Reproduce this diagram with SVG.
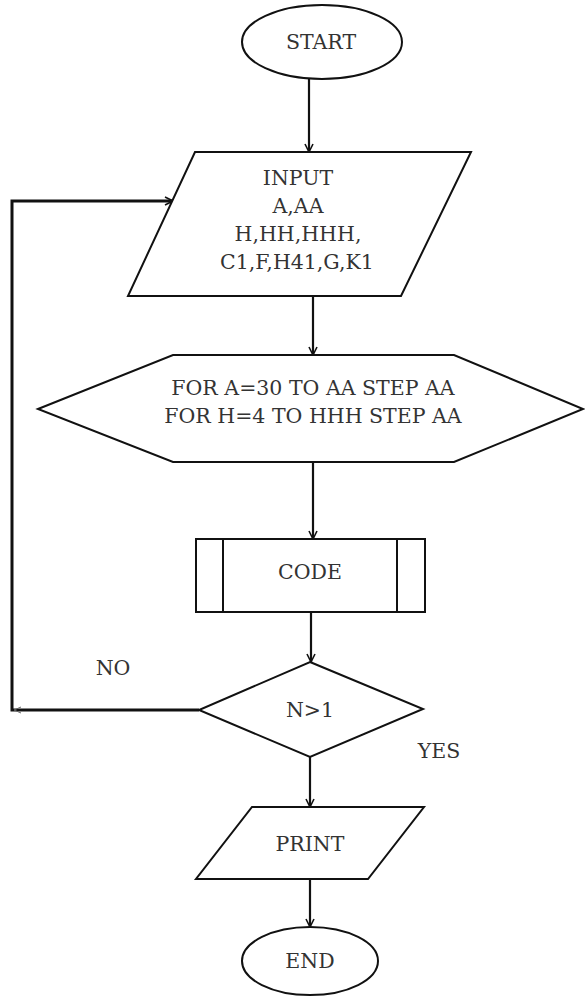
<svg xmlns="http://www.w3.org/2000/svg" width="585" height="998" viewBox="0 0 585 998">
<defs>
<style>
.s{fill:#fff;stroke:#111;stroke-width:2}
.t{font-family:'DejaVu Serif',serif;font-size:20.5px;fill:#333;text-anchor:middle}
.c{fill:none;stroke:#111;stroke-width:2.2}
.cb{fill:none;stroke:#111;stroke-width:3}
</style>
<marker id="ah" markerWidth="10" markerHeight="10" refX="9" refY="5" orient="auto" markerUnits="userSpaceOnUse">
<path d="M1,1 L9,5 L1,9" fill="none" stroke="#111" stroke-width="1.6"/>
</marker>
<marker id="ahl" markerWidth="10" markerHeight="10" refX="9" refY="5" orient="auto" markerUnits="userSpaceOnUse">
<path d="M2,2 L9,5 L2,8" fill="none" stroke="#666" stroke-width="1"/>
</marker>
</defs>
<rect width="585" height="998" fill="#fff"/>
<g id="connectors">
<line class="c" x1="309" y1="79" x2="309" y2="152" marker-end="url(#ah)"/>
<line class="c" x1="313" y1="296" x2="313" y2="355" marker-end="url(#ah)"/>
<line class="c" x1="313" y1="462" x2="313" y2="539" marker-end="url(#ah)"/>
<line class="c" x1="311" y1="612" x2="311" y2="662" marker-end="url(#ah)"/>
<line class="c" x1="310" y1="757" x2="310" y2="807" marker-end="url(#ah)"/>
<line class="c" x1="310" y1="879" x2="310" y2="927" marker-end="url(#ah)"/>
<path class="cb" d="M199,710 L12,710 L12,201 L173,201"/>
<line x1="30" y1="710" x2="14" y2="710" stroke="none" marker-end="url(#ahl)"/>
<line x1="160" y1="201" x2="173" y2="201" stroke="none" marker-end="url(#ah)"/>
<text class="t" x="113" y="675">NO</text>
<text class="t" x="439" y="758">YES</text>
</g>
<g id="start">
<ellipse class="s" cx="322" cy="42" rx="80" ry="37"/>
<text class="t" x="321" y="49">START</text>
</g>
<g id="input">
<polygon class="s" points="195,152 471,152 401,296 128,296"/>
<text class="t" x="298" y="185">INPUT</text>
<text class="t" x="298" y="213">A,AA</text>
<text class="t" x="298" y="241">H,HH,HHH,</text>
<text class="t" x="297" y="269">C1,F,H41,G,K1</text>
</g>
<g id="loop">
<polygon class="s" points="38,409 173,355 454,355 583,409 454,462 173,462"/>
<text class="t" x="313" y="395">FOR A=30 TO AA STEP AA</text>
<text class="t" x="313" y="423">FOR H=4 TO HHH STEP AA</text>
</g>
<g id="code">
<rect class="s" x="196" y="539" width="229" height="73"/>
<line class="s" x1="223" y1="539" x2="223" y2="612"/>
<line class="s" x1="397" y1="539" x2="397" y2="612"/>
<text class="t" x="310" y="579">CODE</text>
</g>
<g id="decision">
<polygon class="s" points="310,662 423,709 310,757 199,710"/>
<text class="t" x="310" y="717">N&gt;1</text>
</g>
<g id="print">
<polygon class="s" points="252,807 424,807 368,879 196,879"/>
<text class="t" x="310" y="851">PRINT</text>
</g>
<g id="end">
<ellipse class="s" cx="310" cy="961" rx="68" ry="34"/>
<text class="t" x="310" y="968">END</text>
</g>
</svg>
